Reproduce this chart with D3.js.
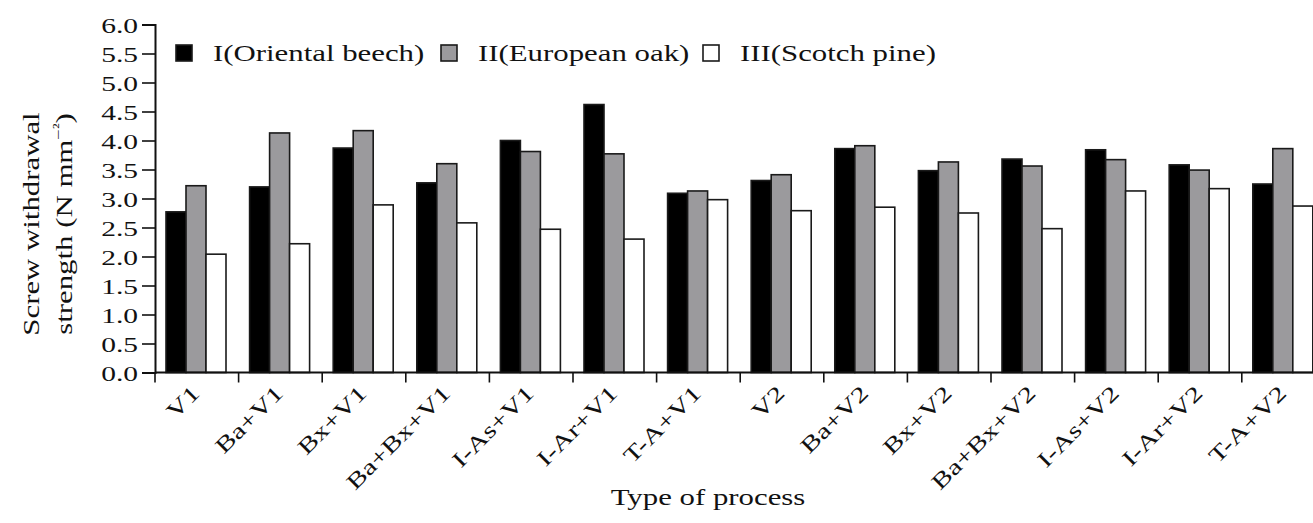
<!DOCTYPE html>
<html>
<head>
<meta charset="utf-8">
<script src="https://cdn.jsdelivr.net/npm/d3@7"></script>
<style>
  body { margin: 0; background: #fff; }
  text { font-family: "Liberation Serif", "Times New Roman", serif; fill: #111; }
</style>
</head>
<body>
<div id="chart"></div>
<script>
const W = 1313, H = 523;

// data
const processes = ['V1', 'Ba+V1', 'Bx+V1', 'Ba+Bx+V1', 'I-As+V1', 'I-Ar+V1', 'T-A+V1',
  'V2', 'Ba+V2', 'Bx+V2', 'Ba+Bx+V2', 'I-As+V2', 'I-Ar+V2', 'T-A+V2'];
const seriesNames = ['I(Oriental beech)', 'II(European oak)', 'III(Scotch pine)'];
const beech = [2.77, 3.20, 3.87, 3.27, 4.00, 4.62, 3.09, 3.31, 3.86, 3.48, 3.68, 3.84, 3.58, 3.25];
const oak   = [3.22, 4.13, 4.17, 3.60, 3.81, 3.77, 3.13, 3.41, 3.91, 3.63, 3.56, 3.67, 3.49, 3.86];
const pine  = [2.04, 2.22, 2.89, 2.58, 2.47, 2.30, 2.98, 2.79, 2.85, 2.75, 2.48, 3.13, 3.17, 2.87];
const yTicks = [0, 0.5, 1, 1.5, 2, 2.5, 3, 3.5, 4, 4.5, 5, 5.5, 6];

const fills = ['#000', '#9b9a9d', '#fff'];
const sx = 1.34; // the original type is wide

const x0 = 155, y0 = 372.5, yTop = 24.5, groupW = 83.6;

const svg = d3.select('#chart').append('svg')
  .attr('width', W)
  .attr('height', H);

const x = d3.scaleBand()
  .domain(processes)
  .range([x0, x0 + groupW * processes.length])
  .padding(0);

const xs = d3.scaleBand()
  .domain(d3.range(seriesNames.length))
  .range([11, 71])
  .padding(0);

const y = d3.scaleLinear()
  .domain([0, 6])
  .range([y0, yTop]);

const data = [beech, oak, pine];

// bars
const groups = svg.append('g')
  .selectAll('g')
  .data(processes)
  .enter().append('g')
  .attr('transform', d => 'translate(' + x(d) + ',0)');

groups.selectAll('rect')
  .data((d, i) => data.map((s, k) => ({ k: k, v: s[i] })))
  .enter().append('rect')
  .attr('x', d => xs(d.k))
  .attr('width', xs.bandwidth())
  .attr('y', d => y(d.v))
  .attr('height', d => y0 - y(d.v))
  .attr('fill', d => fills[d.k])
  .attr('stroke', '#1a1a1a')
  .attr('stroke-width', 1.6);

// y axis
const yAxis = svg.append('g')
  .attr('transform', 'translate(' + x0 + ',0)')
  .call(d3.axisLeft(y).tickValues(yTicks).tickFormat(d3.format('.1f')).tickSize(13).tickPadding(3));
yAxis.select('.domain').attr('stroke-width', 2).attr('stroke', '#111');
yAxis.selectAll('.tick line').attr('stroke-width', 1.6).attr('stroke', '#111');
yAxis.selectAll('.tick text')
  .attr('font-size', 22)
  .attr('dy', '0.36em')
  .attr('x', null)
  .attr('transform', 'translate(-17,0) scale(' + sx + ',1)');

// x axis
svg.append('line')
  .attr('x1', x0).attr('x2', W + 20)
  .attr('y1', y0).attr('y2', y0)
  .attr('stroke', '#111').attr('stroke-width', 2);

svg.append('g')
  .selectAll('line')
  .data(processes)
  .enter().append('line')
  .attr('x1', d => x(d)).attr('x2', d => x(d))
  .attr('y1', y0).attr('y2', y0 + 10)
  .attr('stroke', '#111').attr('stroke-width', 1.6);

svg.append('g')
  .selectAll('text')
  .data(processes)
  .enter().append('text')
  .attr('font-size', 22)
  .attr('text-anchor', 'end')
  .attr('transform', d => 'translate(' + (x(d) + x.bandwidth() / 2 + 4) + ',' + (y0 + 22) + ') rotate(-45) scale(' + sx + ',1)')
  .text(d => d);

// axis titles
svg.append('text')
  .attr('font-size', 23)
  .attr('text-anchor', 'middle')
  .attr('transform', 'translate(708,505) scale(' + sx + ',1)')
  .text('Type of process');

const yTitle = svg.append('g')
  .attr('transform', 'translate(0,224)');
yTitle.append('text')
  .attr('font-size', 23)
  .attr('text-anchor', 'middle')
  .attr('transform', 'translate(39,0) rotate(-90) scale(' + sx + ',1)')
  .text('Screw withdrawal');
const t2 = yTitle.append('text')
  .attr('font-size', 23)
  .attr('text-anchor', 'middle')
  .attr('transform', 'translate(72,0) rotate(-90) scale(' + sx + ',1)');
t2.append('tspan').text('strength (N mm');
t2.append('tspan').attr('font-size', 14).attr('dy', -9).text('\u2212\u00b2');
t2.append('tspan').attr('dy', 9).text(')');

// legend
const legendX = [176, 441, 703];
const legend = svg.append('g')
  .selectAll('g')
  .data(seriesNames)
  .enter().append('g')
  .attr('transform', (d, i) => 'translate(' + legendX[i] + ',45)');
legend.append('rect')
  .attr('width', 16).attr('height', 16)
  .attr('fill', (d, i) => fills[i])
  .attr('stroke', '#1a1a1a').attr('stroke-width', 1.6);
legend.append('text')
  .attr('font-size', 23)
  .attr('transform', 'translate(' + 37 + ',16) scale(' + sx + ',1)')
  .text(d => d);
</script>
</body>
</html>
